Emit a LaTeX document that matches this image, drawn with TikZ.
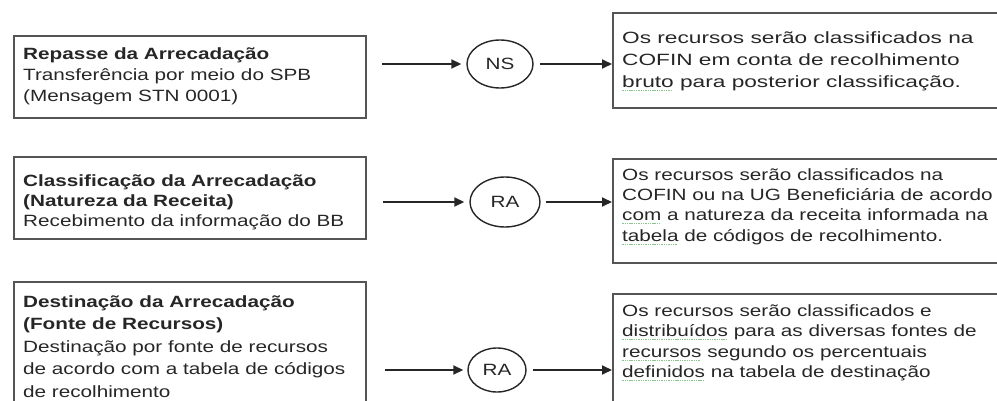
\documentclass[tikz,border=0pt]{standalone}
\usepackage{fontspec}
\usetikzlibrary{arrows.meta,shapes.geometric}
\newfontfamily\fa{Liberation Sans}[FakeStretch=1.27]
\newfontfamily\fb{Liberation Sans}[FakeStretch=1.39]
\definecolor{ink}{HTML}{262626}
\definecolor{frame}{HTML}{555555}
\definecolor{sq}{HTML}{8CC58C}
% green dotted spell-check underline
\newsavebox\spellword
\newcommand\spell[1]{\sbox\spellword{#1}%
  \rlap{\textcolor{sq}{\leaders\hbox{\rule[-3.5pt]{1.4pt}{1pt}\kern0.9pt}\hskip\wd\spellword}}%
  \usebox\spellword}
\begin{document}
\begin{tikzpicture}[x=1pt,y=-1pt,
  box/.style={draw=frame, line width=1.8pt, rectangle, inner sep=0pt, anchor=north west},
  ln/.style={anchor=base west, inner sep=0pt, text=ink, font=\fa\fontsize{16.3}{19}\selectfont},
  lnb/.style={ln, font=\fa\bfseries\fontsize{16.3}{19}\selectfont},
  lnw/.style={ln, font=\fb\fontsize{16.3}{19}\selectfont},
  oval/.style={draw=ink, ellipse, line width=1.4pt, inner sep=0pt, text=ink, font=\fa\fontsize{16.3}{19}\selectfont},
  arr/.style={draw=ink, line width=1.8pt, -{Triangle[length=10pt,width=9pt]}}]
\useasboundingbox (0,0) rectangle (997,401);
\clip (0,0) rectangle (997,401);

% left boxes
\node[box, minimum width=352pt, minimum height=82pt] (b1) at (13,35) {};
\node[box, minimum width=352pt, minimum height=82pt] (b2) at (13,156) {};
\node[box, minimum width=352pt, minimum height=150pt] (b3) at (13,281) {};

% right boxes (running past the right edge)
\node[box, minimum width=400pt, minimum height=95pt] (r1) at (612,12) {};
\node[box, minimum width=400pt, minimum height=104pt] (r2) at (612,158) {};
\node[box, minimum width=400pt, minimum height=140pt] (r3) at (612,293) {};

% texts of the left boxes
\node[lnb] (b1a) at (23,60) {Repasse da Arrecadação};
\node[ln]  (b1b) at (23,81) {Transferência por meio do SPB};
\node[ln]  (b1c) at (23,102) {(Mensagem STN 0001)};

\node[lnb] (b2a) at (23,186) {Classificação da Arrecadação};
\node[lnb] (b2b) at (23,206.5) {(Natureza da Receita)};
\node[ln]  (b2c) at (23,226.5) {Recebimento da informação do BB};

\node[lnb] (b3a) at (23,307) {Destinação da Arrecadação};
\node[lnb] (b3b) at (23,329.5) {(Fonte de Recursos)};
\node[ln]  (b3c) at (23,352) {Destinação por fonte de recursos};
\node[ln]  (b3d) at (23,374.5) {de acordo com a tabela de códigos};
\node[ln]  (b3e) at (23,397.5) {de recolhimento};

% texts of the right boxes
\node[lnw] (r1a) at (622,44) {Os recursos serão classificados na};
\node[lnw] (r1b) at (622,66) {COFIN em conta de recolhimento};
\node[lnw] (r1c) at (622,88) {\spell{bruto} para posterior classificação.};

\node[ln] (r2a) at (622,181) {Os recursos serão classificados na};
\node[ln] (r2b) at (622,201) {COFIN ou na UG Beneficiária de acordo};
\node[ln] (r2c) at (622,221) {\spell{com} a natureza da receita informada na};
\node[ln] (r2d) at (622,241) {\spell{tabela} de códigos de recolhimento.};

\node[ln] (r3a) at (622,316) {Os recursos serão classificados e};
\node[ln] (r3b) at (622,336.5) {\spell{distribuídos} para as diversas fontes de};
\node[ln] (r3c) at (622,357) {\spell{recursos} segundo os percentuais};
\node[ln] (r3d) at (622,377.5) {\spell{definidos} na tabela de destinação};

% event ovals
\node[oval, minimum width=66pt, minimum height=48pt] (e1) at (500,64) {NS};
\node[oval, minimum width=70pt, minimum height=50pt] (e2) at (505,202) {RA};
\node[oval, minimum width=58pt, minimum height=44pt] (e3) at (497,370) {RA};

% arrow starts
\coordinate (s1) at (382,64);
\coordinate (s2) at (383,202);
\coordinate (s3) at (385,370);

% connectors
\draw[arr, shorten >=5pt] (s1) -- (e1.west);
\draw[arr, shorten >=5pt] (s2) -- (e2.west);
\draw[arr, shorten >=4pt] (s3) -- (e3.west);
\draw[arr, shorten <=6pt] (e1.east) -- (r1.west |- e1.east);
\draw[arr, shorten <=5pt] (e2.east) -- (r2.west |- e2.east);
\draw[arr, shorten <=6pt] (e3.east) -- (r3.west |- e3.east);
\end{tikzpicture}
\end{document}
